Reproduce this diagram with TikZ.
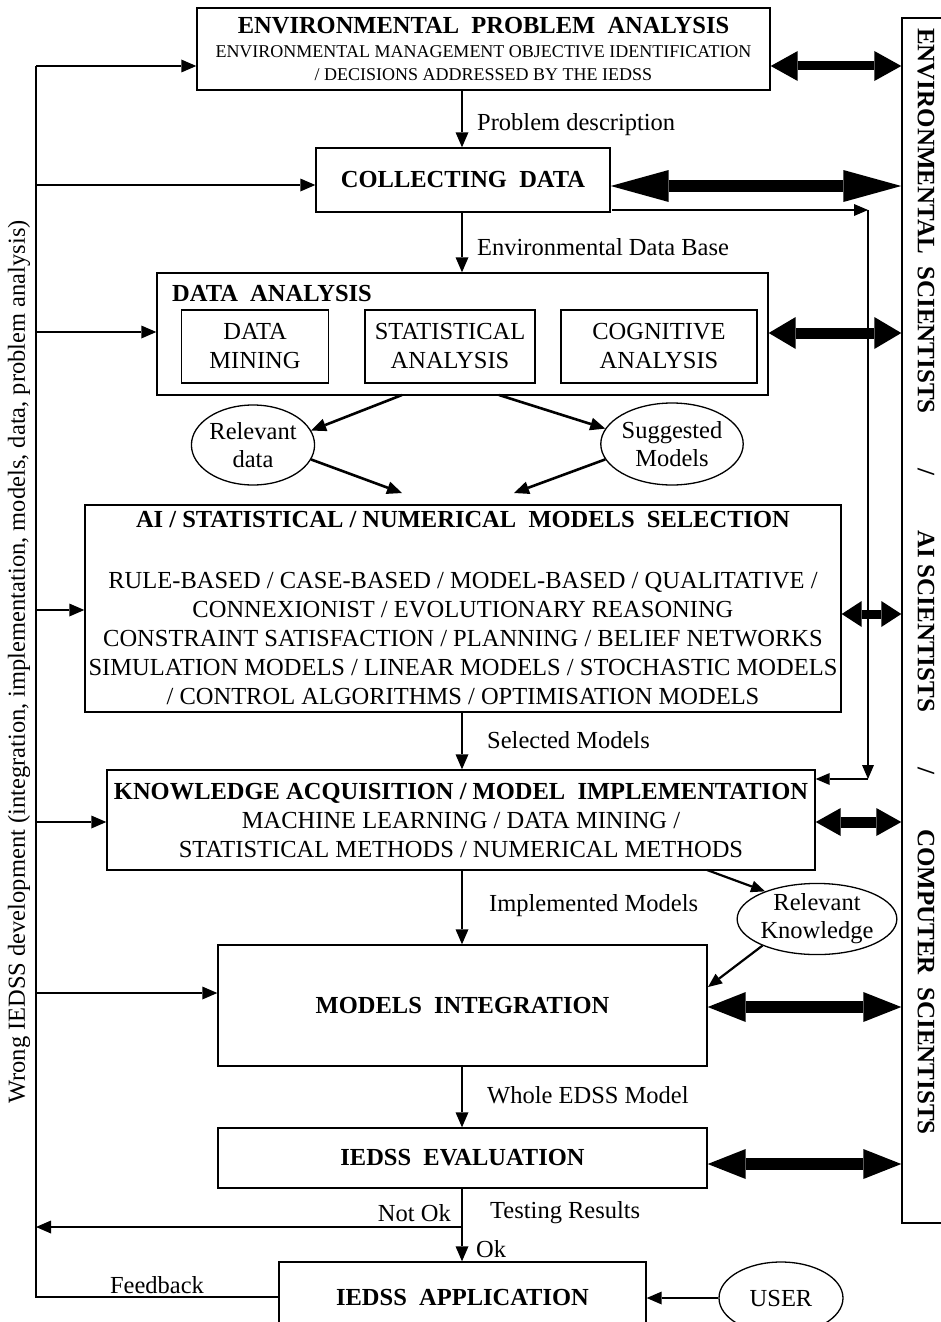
\documentclass[tikz,border=0pt]{standalone}
\usepackage{fontspec}
\setmainfont{Liberation Serif}
\usetikzlibrary{arrows.meta,shapes.geometric}
\begin{document}
\begin{tikzpicture}[x=1pt,y=-1pt,
  box/.style={draw,line width=1.4pt,inner sep=0pt,align=center,font=\fontsize{24.5}{29}\selectfont},
  ell/.style={draw,ellipse,line width=1.3pt,inner sep=0pt,align=center,font=\fontsize{24.5}{28}\selectfont},
  lbl/.style={inner sep=0pt,font=\fontsize{24.5}{28}\selectfont},
  arr/.style={line width=2.6pt,-{Triangle[length=15pt,width=13pt,line width=0pt]}},
  thinarr/.style={line width=2.2pt,-{Triangle[length=14pt,width=12pt,line width=0pt]}},
  dbl/.style n args={3}{line width=#1pt,arrows={Triangle[length=#2pt,width=#3pt,line width=0pt]-Triangle[length=#2pt,width=#3pt,line width=0pt]}},
  plain/.style={line width=2.6pt}]
\useasboundingbox (0,0) rectangle (941,1322);

% right panel
\node[draw,line width=1.4pt,minimum width=80pt,minimum height=1205pt,inner sep=0pt] (panel) at (942,620.5) {};
\node[rotate=-90,anchor=west,inner sep=0pt,font=\fontsize{25}{28}\selectfont\bfseries] (sci) at (926,28)
  {ENVIRONMENTAL\ \ SCIENTISTS\hspace{55pt}/\hspace{55pt}AI SCIENTISTS\hspace{55pt}/\hspace{55pt}COMPUTER\ \ SCIENTISTS};

% main boxes
\node[box,minimum width=573pt,minimum height=82pt,font=\fontsize{18}{23.5}\selectfont] (B1) at (483.5,49)
  {{\fontsize{24.5}{23}\selectfont\bfseries ENVIRONMENTAL\ \ PROBLEM\ \ ANALYSIS}\\
   ENVIRONMENTAL MANAGEMENT OBJECTIVE IDENTIFICATION\\
   / DECISIONS ADDRESSED BY THE IEDSS};
\node[box,minimum width=294pt,minimum height=64pt] (B2) at (463,180) {\bfseries COLLECTING\ \ DATA};
\node[box,minimum width=611pt,minimum height=122pt] (B3) at (462.5,334) {};
\node[lbl,anchor=west,font=\fontsize{24.5}{28}\selectfont\bfseries] (B3t) at (172,294) {DATA\ \ ANALYSIS};
\node[box,minimum width=147pt,minimum height=73pt] (DM) at (255,346.5) {DATA\\MINING};
\node[box,minimum width=170pt,minimum height=73pt] (SA) at (450,346.5) {STATISTICAL\\ANALYSIS};
\node[box,minimum width=196pt,minimum height=73pt] (CA) at (659,346.5) {COGNITIVE\\ANALYSIS};

\node[ell,minimum width=122pt,minimum height=80pt] (RD) at (253,445) {Relevant\\data};
\node[ell,minimum width=140pt,minimum height=82pt] (SM) at (672,444) {Suggested\\Models};

\node[box,minimum width=756pt,minimum height=207pt] (B4) at (463,608.5)
  {\textbf{AI / STATISTICAL / NUMERICAL\ \ MODELS\ \ SELECTION}\\[32pt]
   RULE-BASED / CASE-BASED / MODEL-BASED / QUALITATIVE /\\
   CONNEXIONIST / EVOLUTIONARY REASONING\\
   CONSTRAINT SATISFACTION / PLANNING / BELIEF NETWORKS\\
   SIMULATION MODELS / LINEAR MODELS / STOCHASTIC MODELS\\
   / CONTROL ALGORITHMS / OPTIMISATION MODELS};

\node[box,minimum width=708pt,minimum height=100pt] (B5) at (461,820)
  {\textbf{KNOWLEDGE ACQUISITION / MODEL\ \ IMPLEMENTATION}\\
   MACHINE LEARNING / DATA MINING /\\
   STATISTICAL METHODS / NUMERICAL METHODS};

\node[ell,minimum width=150pt,minimum height=66pt] (RK) at (817,919) {Relevant\\Knowledge};

\node[box,minimum width=489pt,minimum height=121pt] (B6) at (462.5,1005.5) {\bfseries MODELS\ \ INTEGRATION};
\node[box,minimum width=489pt,minimum height=60pt] (B7) at (462.5,1158) {\bfseries IEDSS\ \ EVALUATION};
\node[box,minimum width=367pt,minimum height=70pt] (B8) at (462.5,1297) {\bfseries IEDSS\ \ APPLICATION};
\node[ell,minimum width=124pt,minimum height=72pt] (USER) at (781,1298) {USER};

% column coordinate and labels
\coordinate (col) at (462,0);
\node[lbl,anchor=west] (l1) at (477,125) {Problem description};
\node[lbl,anchor=west] (l2) at (477,247) {Environmental Data Base};
\node[lbl,anchor=west] (l3) at (487,740) {Selected Models};
\node[lbl,anchor=west] (l4) at (489,906) {Implemented Models};
\node[lbl,anchor=west] (l5) at (487,1095) {Whole EDSS Model};
\node[lbl,anchor=east] (l6) at (451,1213) {Not Ok};
\node[lbl,anchor=west] (l7) at (490,1213) {Testing Results};
\node[lbl,anchor=west] (l8) at (476,1249) {Ok};
\node[lbl] (l9) at (157,1285) {Feedback};
\node[lbl,rotate=90] (wrong) at (19,662)
  {Wrong IEDSS development (integration, implementation, models, data, problem analysis)};

% central flow
\draw[arr] (B1.south -| col) -- (B2.north -| col);
\draw[arr] (B2.south -| col) -- (B3.north -| col);
\draw[arr] (B4.south -| col) -- (B5.north -| col);
\draw[arr] (B5.south -| col) -- (B6.north -| col);
\draw[arr] (B6.south -| col) -- (B7.north -| col);
\draw[arr] (B7.south -| col) -- (B8.north -| col);
\coordinate (nok) at (462,1227);
\coordinate (lnok) at (36,1227);
\draw[arr] (nok) -- (lnok);

% data analysis outputs
\coordinate (a1) at (402,395);
\coordinate (a2) at (499,395);
\coordinate (t1) at (402,493);
\coordinate (t2) at (514,493);
\draw[arr] (a1) -- (RD.14);
\draw[arr] (a2) -- (SM.167);
\draw[arr] (RD.-14) -- (t1);
\draw[arr] (SM.193) -- (t2);

% relevant knowledge
\coordinate (k1) at (707,870);
\coordinate (k2) at (708,987);
\draw[thinarr] (k1) -- (RK.152);
\draw[thinarr] (RK.206) -- (k2);

% branch from collecting data to knowledge acquisition
\coordinate (c0) at (612,210);
\coordinate (c1) at (868,210);
\coordinate (c2) at (868,779);
\draw[thinarr] (c0) -- (c1);
\draw[thinarr] (c1) -- (c2);
\draw[thinarr] (c2) -- (c2 -| B5.east);

% left feedback line
\coordinate (L) at (36,0);
\coordinate (Ltop) at (36,66);
\draw[plain] (B8.west) -- (B8.west -| L) -- (Ltop);
\draw[arr] (Ltop) -- (Ltop -| B1.west);
\coordinate (y2) at (36,185);
\coordinate (y3) at (36,332);
\coordinate (y4) at (36,610);
\coordinate (y5) at (36,822);
\coordinate (y6) at (36,993);
\draw[arr] (y2) -- (y2 -| B2.west);
\draw[arr] (y3) -- (y3 -| B3.west);
\draw[arr] (y4) -- (y4 -| B4.west);
\draw[arr] (y5) -- (y5 -| B5.west);
\draw[arr] (y6) -- (y6 -| B6.west);

% user
\draw[arr] (USER.west) -- (USER.west -| B8.east);

% double arrows to scientists
\coordinate (d1) at (0,66);
\coordinate (d2) at (0,186);
\coordinate (d3) at (0,333);
\coordinate (d4) at (0,614);
\coordinate (d5) at (0,822);
\coordinate (d6) at (0,1007);
\coordinate (d7) at (0,1164);
\draw[dbl={9}{27}{30}] (d1 -| B1.east) -- (d1 -| panel.west);
\draw[dbl={12}{58}{32}] (d2 -| B2.east) -- (d2 -| panel.west);
\draw[dbl={11}{27}{32}] (d3 -| B3.east) -- (d3 -| panel.west);
\draw[dbl={9}{20}{26}] (d4 -| B4.east) -- (d4 -| panel.west);
\draw[dbl={11}{25}{28}] (d5 -| B5.east) -- (d5 -| panel.west);
\draw[dbl={12}{38}{30}] (d6 -| B6.east) -- (d6 -| panel.west);
\draw[dbl={12}{38}{30}] (d7 -| B7.east) -- (d7 -| panel.west);
\end{tikzpicture}
\end{document}
